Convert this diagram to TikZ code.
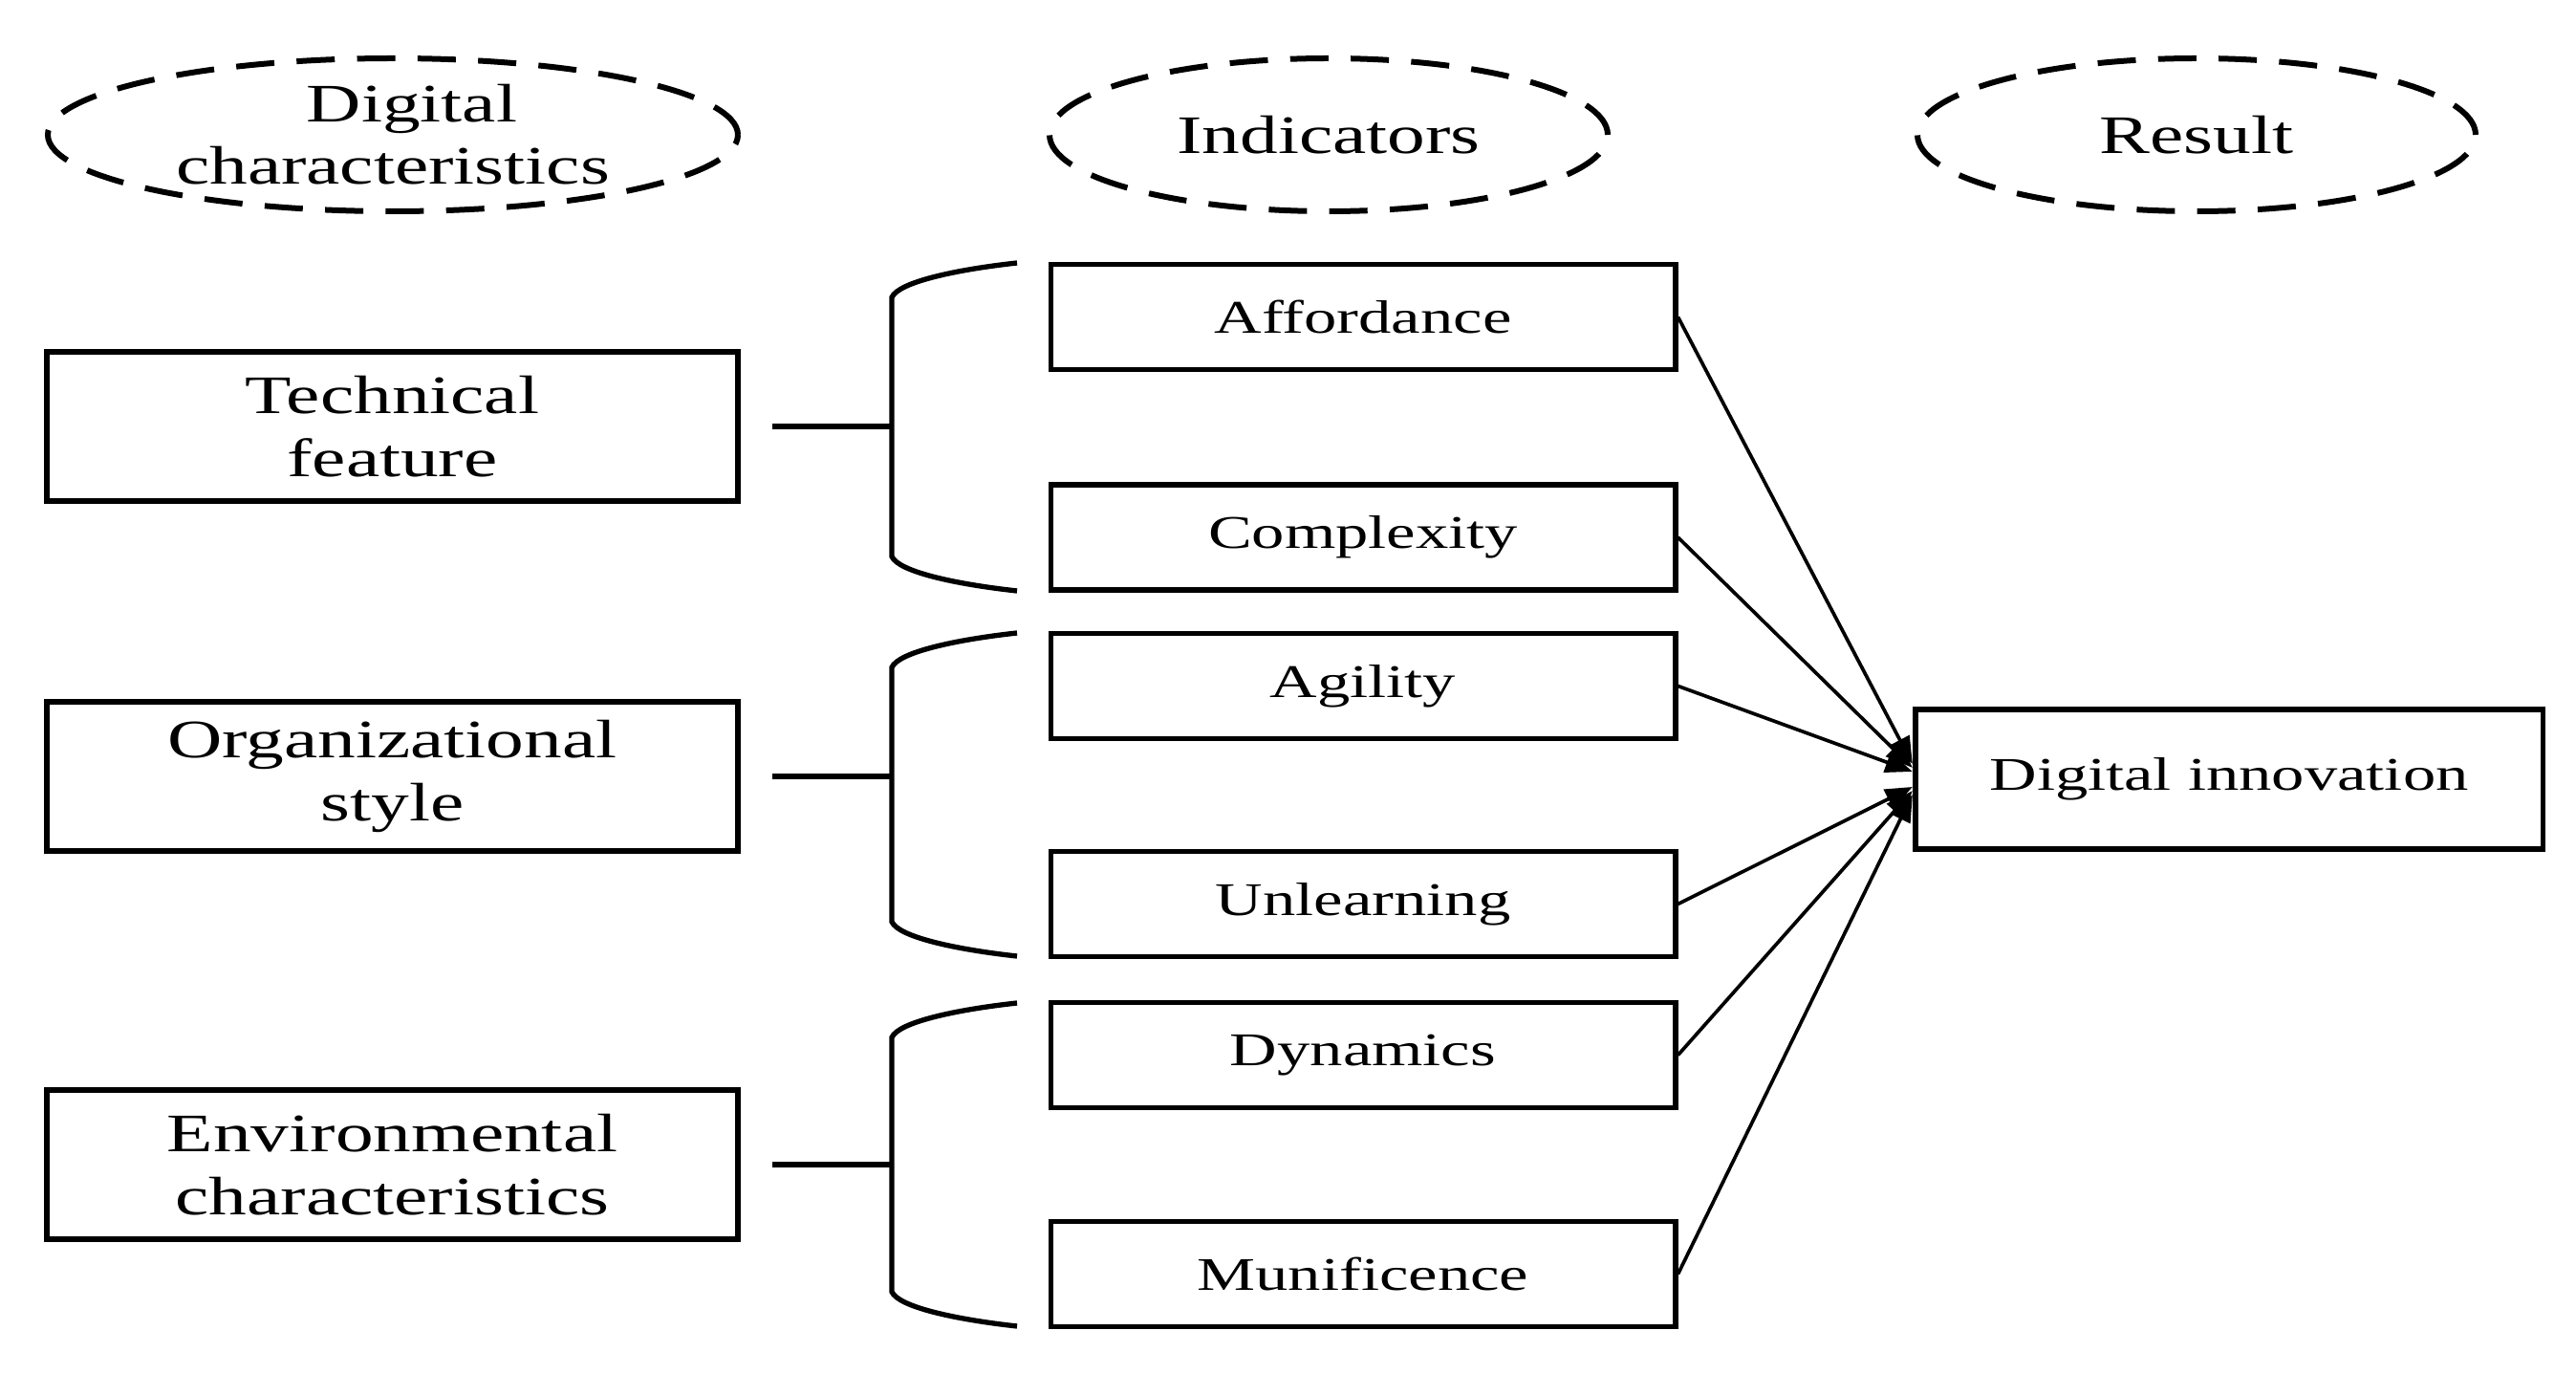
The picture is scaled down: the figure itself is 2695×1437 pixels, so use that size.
\documentclass[tikz,border=0pt]{standalone}
\usepackage{fontspec}
\setmainfont[FakeStretch=1.4]{Liberation Serif}
\usetikzlibrary{shapes.geometric,arrows.meta,calc}
\begin{document}
\begin{tikzpicture}[x=0.3pt,y=-0.3pt,
  box/.style={draw, line width=1.7pt, rectangle, inner sep=0pt, align=center},
  lbox/.style={box, minimum width=217pt, minimum height=46.8pt, font=\fontsize{17}{20}\selectfont},
  ibox/.style={box, minimum width=196pt, minimum height=33pt, font=\fontsize{14.7}{17}\selectfont},
  ell/.style={draw, ellipse, line width=1.8pt, dash pattern=on 12pt off 7pt, inner sep=0pt, minimum height=48pt},
  elbl/.style={align=center, font=\fontsize{17}{19.5}\selectfont, inner sep=0pt},
  brk/.style={line width=1.6pt},
  stub/.style={line width=1.6pt},
  arr/.style={line width=1.1pt, -{Triangle[length=8.5pt,width=6.5pt]}}]
\useasboundingbox (0,0) rectangle (2695,1437);

% header ellipses
\node[ell, minimum width=216.6pt] (e1) at (411,141) {};
\node[elbl] (t1) at (e1) {\hspace*{12pt}Digital\\characteristics};
\node[ell, minimum width=175.2pt] (e2) at (1390,141) {};
\node[elbl] (t2) at (e2) {Indicators};
\node[ell, minimum width=175.2pt] (e3) at (2298,141) {};
\node[elbl] (t3) at (e3) {Result};

% left boxes
\node[lbox] (tech) at (410.5,446) {Technical\\feature};
\node[lbox] (org) at (410.5,812) {Organizational\\style};
\node[lbox] (env) at (410.5,1218) {Environmental\\characteristics};

% indicator boxes
\node[ibox] (aff) at (1426,331.5) {Affordance};
\node[ibox] (cpx) at (1426,562) {Complexity};
\node[ibox] (agi) at (1426,717.5) {Agility};
\node[ibox] (unl) at (1426,945.5) {Unlearning};
\node[ibox] (dyn) at (1426,1103.5) {Dynamics};
\node[ibox] (mun) at (1426,1332.5) {Munificence};

% result box
\node[ibox, minimum width=197pt, minimum height=43.8pt] (di) at (2332,815) {Digital innovation};

% stubs
\coordinate (s1) at (808,446);  \coordinate (j1) at (933,446);
\coordinate (s2) at (808,812);  \coordinate (j2) at (933,812);
\coordinate (s3) at (808,1218); \coordinate (j3) at (933,1218);
\draw[stub] (s1) -- (j1);
\draw[stub] (s2) -- (j2);
\draw[stub] (s3) -- (j3);

% brackets
\foreach \t/\b in {275/618, 662/1000, 1049/1387} {
  \draw[brk] (1064,\t) .. controls (1000,\t+7) and (940,\t+20) .. (933,\t+36)
    -- (933,\b-36) .. controls (940,\b-20) and (1000,\b-7) .. (1064,\b);
}

% arrows
\draw[arr] (aff.east) -- ($(di.west)+(0,-16)$);
\draw[arr] (cpx.east) -- ($(di.west)+(0,-12)$);
\draw[arr] (agi.east) -- ($(di.west)+(0,-8)$);
\draw[arr] (unl.east) -- ($(di.west)+(0,8)$);
\draw[arr] (dyn.east) -- ($(di.west)+(0,12)$);
\draw[arr] (mun.east) -- ($(di.west)+(0,16)$);
\end{tikzpicture}
\end{document}
